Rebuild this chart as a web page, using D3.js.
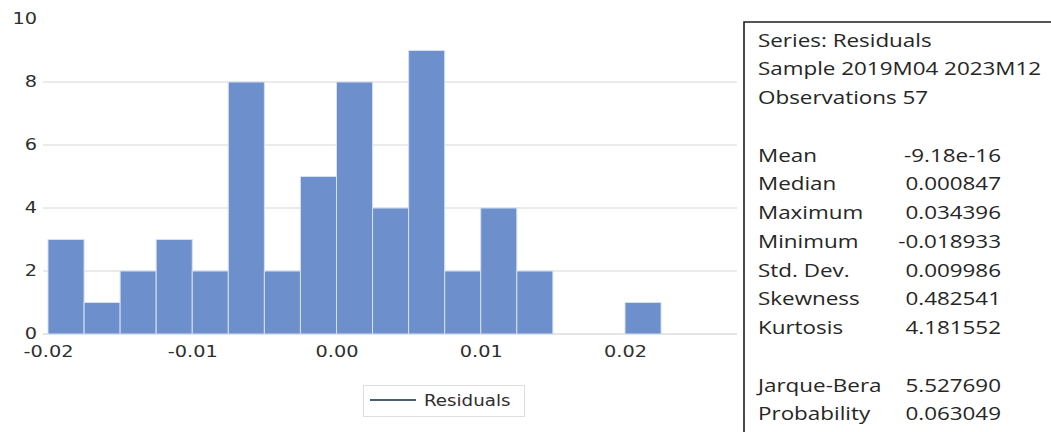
<!DOCTYPE html>
<html>
<head>
<meta charset="utf-8">
<script src="https://cdn.jsdelivr.net/npm/d3@7"></script>
<style>
  html, body { margin: 0; padding: 0; background: #fff; }
  svg { display: block; }
</style>
</head>
<body>
<svg id="chart" width="1051" height="432"></svg>
<script>
// Histogram of residuals: bin edges (lower bound of each bin) and counts
const binStarts = [-0.02, -0.0175, -0.015, -0.0125, -0.01, -0.0075, -0.005, -0.0025,
                   0.0, 0.0025, 0.005, 0.0075, 0.01, 0.0125, 0.015, 0.0175, 0.02];
const binCounts = [3, 1, 2, 3, 2, 8, 2, 5, 8, 4, 9, 2, 4, 2, 0, 0, 1];
const binWidth = 0.0025;

const xTicks = [-0.02, -0.01, 0.0, 0.01, 0.02];
const yTicks = [0, 2, 4, 6, 8, 10];
const seriesName = "Residuals";

// Descriptive statistics panel
const headerLines = ["Series: Residuals", "Sample 2019M04 2023M12", "Observations 57"];
const statLabels = ["Mean", "Median", "Maximum", "Minimum", "Std. Dev.", "Skewness", "Kurtosis"];
const statValues = ["-9.18e-16", "0.000847", "0.034396", "-0.018933", "0.009986", "0.482541", "4.181552"];
const testLabels = ["Jarque-Bera", "Probability"];
const testValues = ["5.527690", "0.063049"];

const svg = d3.select("#chart");

const x = d3.scaleLinear().domain([-0.02, 0.02]).range([48, 625]);
const y = d3.scaleLinear().domain([0, 10]).range([334, 19]);
const plotLeft = 43, plotRight = 737;
const tickFont = "DejaVu Sans", tickSize = 16.5, tickStretch = 1.17;

const fmtX = v => d3.format(".2f")(v).replace("\u2212", "-");

// horizontal gridlines
svg.append("g")
  .selectAll("line")
  .data(yTicks.filter(t => t > 0 && t < 10))
  .join("line")
  .attr("x1", plotLeft).attr("x2", plotRight)
  .attr("y1", d => y(d)).attr("y2", d => y(d))
  .attr("stroke", "#e4e4e4").attr("stroke-width", 1.5);

// baseline
svg.append("line")
  .attr("x1", plotLeft).attr("x2", plotRight)
  .attr("y1", y(0)).attr("y2", y(0))
  .attr("stroke", "#dcdcdc").attr("stroke-width", 1.5);

// bars
svg.append("g")
  .selectAll("rect")
  .data(binStarts.map((s, i) => ({ s, c: binCounts[i] })).filter(d => d.c > 0))
  .join("rect")
  .attr("x", d => x(d.s))
  .attr("width", d => x(d.s + binWidth) - x(d.s))
  .attr("y", d => y(d.c))
  .attr("height", d => y(0) - y(d.c))
  .attr("fill", "#6d8fcb")
  .attr("stroke", "#d6e0f2")
  .attr("stroke-width", 1);

// y axis labels
const yAxis = d3.axisLeft(y).tickValues(yTicks).tickSize(0).tickPadding(0).tickFormat(d3.format("d"));
const gy = svg.append("g").attr("transform", "translate(37,-1)").call(yAxis);
gy.select(".domain").remove();
gy.selectAll("text")
  .attr("font-family", tickFont).attr("font-size", tickSize).attr("fill", "#2e2e2e")
  .attr("x", 0).attr("dy", "0.36em")
  .attr("transform", `scale(${tickStretch},1)`);

// x axis labels
const xAxis = d3.axisBottom(x).tickValues(xTicks).tickSize(0).tickPadding(0).tickFormat(fmtX);
const gx = svg.append("g").attr("transform", `translate(0,${y(0)})`).call(xAxis);
gx.select(".domain").remove();
gx.selectAll("text")
  .attr("font-family", tickFont).attr("font-size", tickSize).attr("fill", "#2e2e2e")
  .attr("y", 23).attr("dy", null)
  .attr("transform", `scale(${tickStretch},1)`);

// legend
const lg = svg.append("g");
lg.append("rect")
  .attr("x", 363.5).attr("y", 385.5).attr("width", 161).attr("height", 31)
  .attr("fill", "#fff").attr("stroke", "#dedede").attr("stroke-width", 1);
lg.append("line")
  .attr("x1", 370).attr("x2", 416).attr("y1", 400).attr("y2", 400)
  .attr("stroke", "#4a5f73").attr("stroke-width", 2.2);
lg.append("text")
  .attr("transform", "translate(424,406) scale(1.14,1)")
  .attr("font-family", "DejaVu Sans").attr("font-size", 16).attr("fill", "#2e2e2e")
  .text(seriesName);

// statistics panel frame
svg.append("path")
  .attr("d", "M744,432 L744,22 L1051,22")
  .attr("fill", "none").attr("stroke", "#1e1e1e").attr("stroke-width", 1.6);

const rowY = i => 46.5 + 28.75 * i;
const txtFont = "Open Sans", txtSize = 19, sx = 1.18;
const labelX = 758, valueX = 1001;

const rows = [];
headerLines.forEach((t, i) => rows.push({ row: i, label: t }));
statLabels.forEach((t, i) => rows.push({ row: 4 + i, label: t, value: statValues[i] }));
testLabels.forEach((t, i) => rows.push({ row: 12 + i, label: t, value: testValues[i] }));

const panel = svg.append("g")
  .attr("font-family", txtFont).attr("font-size", txtSize).attr("fill", "#262626");

panel.selectAll("text.lbl")
  .data(rows)
  .join("text").attr("class", "lbl")
  .attr("transform", d => `translate(${labelX},${rowY(d.row)}) scale(${sx},1)`)
  .text(d => d.label);

panel.selectAll("text.val")
  .data(rows.filter(d => d.value))
  .join("text").attr("class", "val")
  .attr("text-anchor", "end")
  .attr("transform", d => `translate(${valueX},${rowY(d.row)}) scale(${sx},1)`)
  .text(d => d.value);
</script>
</body>
</html>
